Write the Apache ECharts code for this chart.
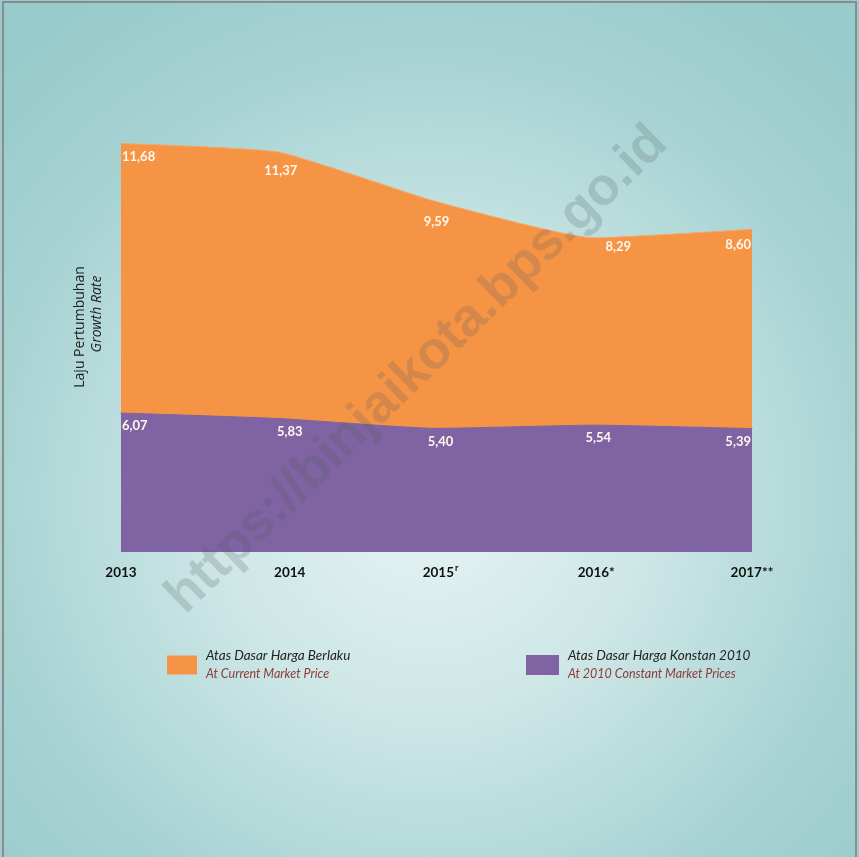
<!DOCTYPE html>
<html>
<head>
<meta charset="utf-8">
<script src="https://cdn.jsdelivr.net/npm/echarts@6/dist/echarts.min.js"></script>
<style>
  html, body { margin: 0; padding: 0; }
  #chart {
    width: 859px;
    height: 857px;
    background: radial-gradient(ellipse 70% 70% at 50% 58%, #e6f4f4 0%, #cfe7e7 35%, #a6d2d2 75%, #98cbcb 100%);
  }
</style>
</head>
<body>
<div id="chart"></div>
<script>
// tahun & nilai laju pertumbuhan
const years = ['2013', '2014', '2015', '2016*', '2017**'];
const yearSup = ['', '', 'r', '', ''];
const currentPrice = [11.68, 11.37, 9.59, 8.29, 8.60];
const constantPrice = [6.07, 5.83, 5.40, 5.54, 5.39];
const seriesNames = ['Atas Dasar Harga Berlaku', 'Atas Dasar Harga Konstan 2010'];
const seriesSubNames = ['At Current Market Price', 'At 2010 Constant Market Prices'];

const ORANGE = '#f69446';
const PURPLE = '#7f63a2';
const FONT = 'Lato';

// posisi label (geser sedikit spt di gambar)
const xLabelShift = [0, 11, 4, 2, 0];
const orangeAlign = ['left', 'center', 'center', 'center', 'right'];
const orangeNudge = [[1, 0], [2, 6], [0, 7], [24, -4], [-1, 3]];
const purpleAlign = ['left', 'center', 'center', 'center', 'right'];
const purpleNudge = [[1, 0], [11, 0], [4, 0], [4, 0], [-1, 0]];

const fmt = (v) => v.toFixed(2).replace('.', ',');

function buildData(vals, align, nudge) {
  return vals.map((v, i) => ({
    value: v,
    label: { align: align[i], offset: nudge[i] },
  }));
}

const chart = echarts.init(document.getElementById('chart'));

const labelStyle = {
  show: true,
  position: 'bottom',
  distance: 6,
  color: '#fff8ee',
  fontFamily: FONT,
  fontWeight: 'bold',
  fontSize: 13,
  formatter: (p) => fmt(p.value),
};

const legendRich = {
  a: { fontFamily: FONT, fontStyle: 'italic', fontSize: 13.5, color: '#222', lineHeight: 18, padding: [0, 0, 0, 4] },
  b: { fontFamily: FONT, fontStyle: 'italic', fontSize: 12.5, color: '#8e3b3b', lineHeight: 18, padding: [0, 0, 0, 4] },
};

// label tahun: superscript + geser (padding kiri)
const xRich = {
  a: { fontFamily: FONT, fontWeight: 'bold', fontSize: 13.5, color: '#111', lineHeight: 16, verticalAlign: 'bottom' },
  s: { fontFamily: FONT, fontWeight: 'bold', fontSize: 9, color: '#111', lineHeight: 16, verticalAlign: 'top', padding: [0, 0, 0, 1] },
};
xLabelShift.forEach((s, idx) => {
  if (s) xRich[`p${idx}`] = { width: s * 2, lineHeight: 16 };
});

const option = {
  animation: false,
  backgroundColor: 'transparent',
  grid: {
    left: 121,
    right: 107,
    top: 79,
    bottom: 305,
  },
  xAxis: {
    type: 'category',
    boundaryGap: false,
    data: years,
    axisLine: { show: false },
    axisTick: { show: false },
    splitLine: { show: false },
    axisLabel: {
      margin: 12,
      formatter: (val, idx) => {
        const pad = xLabelShift[idx] ? `{p${idx}|}` : '';
        const sup = yearSup[idx] ? `{s|${yearSup[idx]}}` : '';
        return `${pad}{a|${val}}${sup}`;
      },
      rich: xRich,
    },
  },
  yAxis: [
    {
      type: 'value',
      min: -3,
      max: 14,
      show: false,
      splitLine: { show: false },
    },
    {
      type: 'value',
      min: 0,
      max: 20.66,
      show: false,
      splitLine: { show: false },
    },
  ],
  legend: [
    {
      data: [seriesNames[0]],
      left: 167,
      top: 649,
      padding: 0,
      icon: 'rect',
      itemWidth: 30,
      itemHeight: 19,
      selectedMode: false,
      formatter: (name) => `{a|${name}}\n{b|${seriesSubNames[0]}}`,
      textStyle: { rich: legendRich },
    },
    {
      data: [seriesNames[1]],
      left: 526,
      top: 649,
      padding: 0,
      icon: 'rect',
      itemWidth: 33,
      itemHeight: 20,
      selectedMode: false,
      formatter: (name) => `{a|${name}}\n{b|${seriesSubNames[1]}}`,
      textStyle: { rich: legendRich },
    },
  ],
  graphic: [
    {
      type: 'rect',
      shape: { x: 3, y: 2, width: 853, height: 860 },
      style: { fill: 'none', stroke: '#8c8c8c', lineWidth: 2 },
      silent: true,
    },
    {
      type: 'text',
      x: 80,
      y: 327,
      rotation: Math.PI / 2,
      style: {
        text: 'Laju Pertumbuhan',
        fontFamily: 'Open Sans',
        fontSize: 14,
        fill: '#222',
        align: 'center',
        verticalAlign: 'middle',
      },
    },
    {
      type: 'text',
      x: 97,
      y: 314,
      rotation: Math.PI / 2,
      style: {
        text: 'Growth Rate',
        fontFamily: 'Open Sans',
        fontStyle: 'italic',
        fontSize: 14,
        fill: '#222',
        align: 'center',
        verticalAlign: 'middle',
      },
    },
    {
      // watermark
      type: 'text',
      x: 417,
      y: 370,
      z: 100,
      rotation: 0.77,
      silent: true,
      style: {
        text: 'https://binjaikota.bps.go.id',
        fontFamily: 'Liberation Sans',
        fontWeight: 'bold',
        fontSize: 53,
        fill: 'rgba(80, 90, 90, 0.21)',
        align: 'center',
        verticalAlign: 'middle',
      },
    },
  ],
  series: [
    {
      name: seriesNames[0],
      type: 'line',
      yAxisIndex: 0,
      smooth: 0.15,
      symbol: 'circle',
      symbolSize: 1,
      itemStyle: { color: ORANGE },
      lineStyle: { width: 1, color: '#f7a667' },
      areaStyle: { color: ORANGE, opacity: 1, origin: 'start' },
      label: labelStyle,
      data: buildData(currentPrice, orangeAlign, orangeNudge),
    },
    {
      name: seriesNames[1],
      type: 'line',
      yAxisIndex: 1,
      smooth: 0.15,
      symbol: 'circle',
      symbolSize: 1,
      itemStyle: { color: PURPLE },
      lineStyle: { width: 1, color: PURPLE },
      areaStyle: { color: PURPLE, opacity: 1, origin: 'start' },
      label: labelStyle,
      data: buildData(constantPrice, purpleAlign, purpleNudge),
    },
  ],
};

chart.setOption(option);
</script>
</body>
</html>
